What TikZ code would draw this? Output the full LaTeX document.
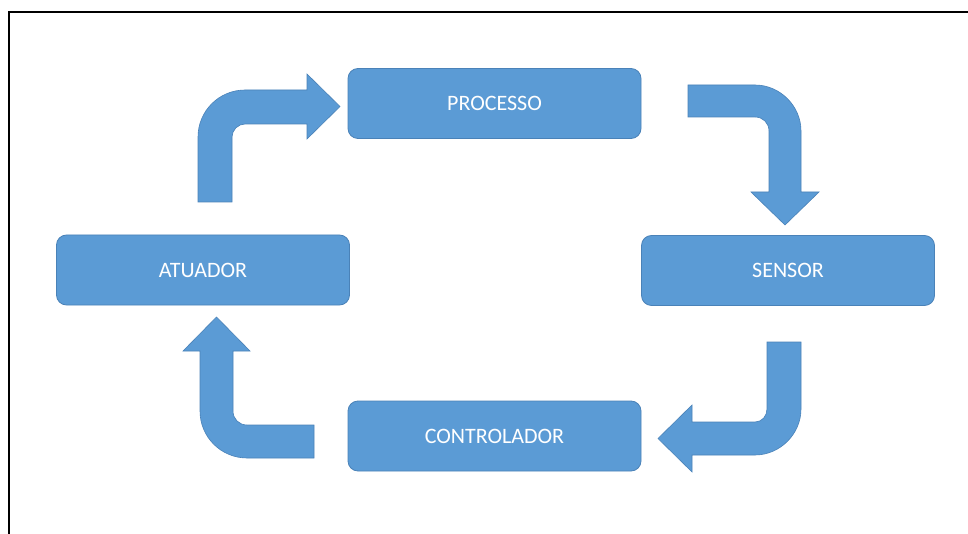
\documentclass[tikz,border=0pt]{standalone}
\usepackage{fontspec}
\setmainfont{Carlito}
\definecolor{boxblue}{HTML}{5B9BD5}
\definecolor{boxedge}{HTML}{4A82B8}
\begin{document}
\begin{tikzpicture}[x=1pt,y=-1pt,
  stepbox/.style={rectangle, rounded corners=10pt, fill=boxblue, draw=boxedge, line width=0.8pt,
    minimum width=293pt, minimum height=70pt, inner sep=0pt, text=white,
    font=\fontsize{22}{25}\selectfont},
  blockarrow/.style={fill=boxblue, draw=boxedge, line width=0.6pt, line join=miter}]
\useasboundingbox (0,0) rectangle (968,534);
\fill[white] (0,0) rectangle (968,534);
% frame (top and left edges only)
\draw[line width=2pt] (9,534) -- (9,12.5) -- (968,12.5);
% boxes
\node[stepbox] (proc) at (494.5,103.5) {PROCESSO};
\node[stepbox] (sens) at (788,270.5) {SENSOR};
\node[stepbox] (ctrl) at (494.5,436) {CONTROLADOR};
\node[stepbox] (atua) at (203,270) {ATUADOR};
% arrow: atuador -> processo
\draw[blockarrow] (198,202) -- (198,137) .. controls (198,111) and (219,90) .. (245,90)
  -- (307,90) -- (307,74) -- (340,106.5) -- (307,139) -- (307,124) -- (245,124)
  .. controls (238,124) and (232,130) .. (232,137) -- (232,202) -- cycle;
% arrow: processo -> sensor
\draw[blockarrow] (688,85) -- (755,85) .. controls (780,85) and (801,106) .. (801,131)
  -- (801,192) -- (819,192) -- (785,225) -- (751,192) -- (769,192) -- (769,131)
  .. controls (769,123) and (763,117) .. (755,117) -- (688,117) -- cycle;
% arrow: sensor -> controlador
\draw[blockarrow] (767,342) -- (801,342) -- (801,409) .. controls (801,434) and (780,455) .. (755,455)
  -- (692,455) -- (692,472) -- (658,438.5) -- (692,405) -- (692,422) -- (755,422)
  .. controls (762,422) and (767,416) .. (767,409) -- cycle;
% arrow: controlador -> atuador
\draw[blockarrow] (314,425) -- (247,425) .. controls (239,425) and (233,419) .. (233,411)
  -- (233,351) -- (250,351) -- (216.5,317) -- (183,351) -- (200,351) -- (200,411)
  .. controls (200,437) and (221,458) .. (247,458) -- (314,458) -- cycle;
\end{tikzpicture}
\end{document}
